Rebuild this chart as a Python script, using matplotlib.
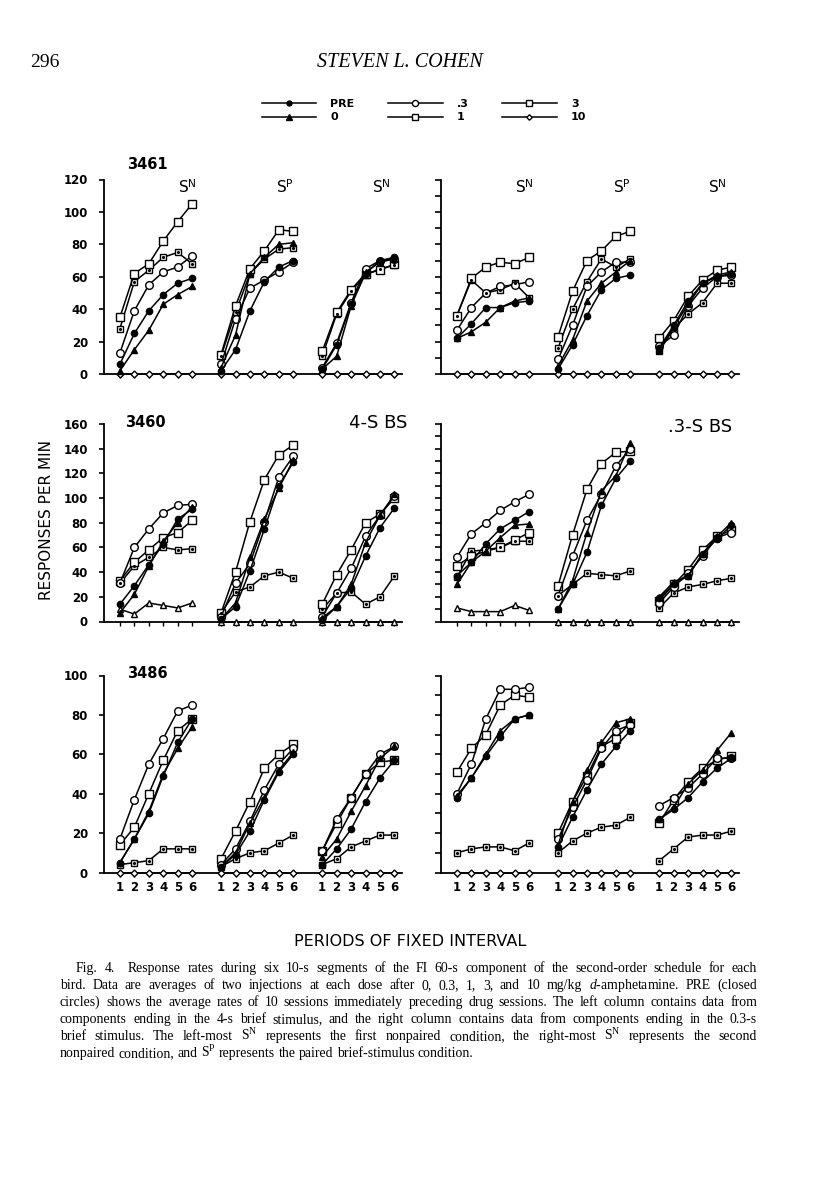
import matplotlib
matplotlib.use("Agg")
import matplotlib.pyplot as plt
import matplotlib.transforms as mtransforms
from matplotlib.lines import Line2D

W, H = 816, 1200

plt.rcParams['mathtext.fontset'] = 'custom'
plt.rcParams['mathtext.rm'] = 'Liberation Serif'
plt.rcParams['mathtext.it'] = 'Liberation Serif:italic'

# x layout: three conditions (SN, SP, SN), six 10-s periods each
periods = [1, 2, 3, 4, 5, 6]
group_offsets = [0, 7, 14]
doses = ['10', '3', '1', '.3', '0', 'PRE']
period_labels = ['1', '2', '3', '4', '5', '6']

# bird 3461, 4-s brief stimulus
b3461_4s = {
    'PRE': [6, 25, 39, 49, 56, 59, 2, 15, 39, 57, 66, 70, 3, 18, 43, 62, 70, 72],
    '0':   [2, 15, 27, 43, 49, 54, 4, 24, 62, 72, 80, 81, 3, 11, 42, 63, 69, 71],
    '.3':  [13, 39, 55, 63, 66, 73, 6, 34, 53, 58, 63, 69, 4, 19, 44, 65, 70, 71],
    '1':   [35, 62, 68, 82, 94, 105, 12, 42, 65, 76, 89, 88, 14, 38, 52, 62, 64, 68],
    '3':   [28, 57, 64, 72, 75, 68, 11, 38, 62, 71, 77, 78, 11, 37, 51, 61, 65, 67],
    '10':  [0] * 18,
}
# bird 3461, 0.3-s brief stimulus
b3461_03s = {
    'PRE': [22, 31, 41, 41, 44, 45, 3, 18, 36, 52, 59, 61, 16, 30, 45, 56, 60, 62],
    '0':   [22, 26, 32, 41, 45, 47, 5, 21, 45, 56, 63, 70, 15, 29, 43, 56, 61, 63],
    '.3':  [27, 41, 50, 54, 55, 57, 9, 30, 54, 63, 69, 69, 17, 24, 42, 53, 60, 61],
    '1':   [36, 59, 66, 69, 68, 72, 23, 51, 70, 76, 85, 88, 22, 33, 48, 58, 64, 66],
    '3':   [36, 58, 50, 52, 56, 47, 16, 40, 57, 71, 66, 71, 14, 28, 37, 44, 56, 56],
    '10':  [0] * 18,
}
# bird 3460, 4-s brief stimulus
b3460_4s = {
    'PRE': [14, 29, 46, 63, 83, 91, 2, 12, 41, 75, 110, 129, 1, 12, 27, 53, 76, 92],
    '0':   [7, 22, 45, 65, 80, 93, 2, 15, 52, 83, 108, 131, 3, 12, 30, 64, 86, 103],
    '.3':  [31, 60, 75, 88, 94, 95, 4, 31, 47, 81, 117, 134, 4, 23, 43, 69, 86, 102],
    '1':   [33, 48, 58, 68, 72, 82, 7, 40, 81, 115, 135, 143, 14, 38, 58, 80, 87, 100],
    '3':   [31, 45, 52, 60, 58, 59, 7, 24, 28, 37, 40, 35, 10, 23, 24, 14, 20, 37],
    '10':  [10, 6, 15, 13, 11, 15, 0, 0, 0, 0, 0, 0, 0, 0, 0, 0, 0, 0],
}
# bird 3460, 0.3-s brief stimulus
b3460_03s = {
    'PRE': [37, 48, 63, 75, 82, 89, 10, 30, 56, 94, 116, 130, 19, 30, 37, 55, 67, 78],
    '0':   [30, 48, 57, 68, 78, 79, 10, 33, 72, 106, 118, 145, 20, 32, 37, 55, 69, 80],
    '.3':  [52, 71, 80, 90, 97, 103, 21, 53, 82, 103, 126, 140, 15, 28, 39, 53, 68, 72],
    '1':   [45, 53, 57, 60, 66, 72, 29, 70, 107, 128, 137, 138, 17, 30, 42, 58, 69, 74],
    '3':   [36, 57, 58, 60, 65, 65, 21, 30, 39, 38, 37, 41, 11, 23, 28, 30, 33, 35],
    '10':  [11, 8, 8, 8, 13, 9, 0, 0, 0, 0, 0, 0, 0, 0, 0, 0, 0, 0],
}
# bird 3486, 4-s brief stimulus
b3486_4s = {
    'PRE': [5, 17, 30, 49, 66, 78, 3, 9, 21, 37, 51, 60, 4, 12, 22, 36, 48, 57],
    '0':   [5, 17, 31, 50, 63, 74, 3, 10, 25, 38, 52, 61, 8, 17, 31, 44, 58, 64],
    '.3':  [17, 37, 55, 68, 82, 85, 4, 12, 26, 42, 55, 63, 11, 27, 38, 50, 60, 64],
    '1':   [14, 23, 40, 57, 72, 78, 7, 21, 36, 53, 60, 65, 11, 25, 38, 50, 56, 57],
    '3':   [4, 5, 6, 12, 12, 12, 3, 7, 10, 11, 15, 19, 4, 7, 13, 16, 19, 19],
    '10':  [0] * 18,
}
# bird 3486, 0.3-s brief stimulus
b3486_03s = {
    'PRE': [38, 48, 59, 69, 78, 80, 13, 28, 42, 55, 64, 72, 27, 32, 38, 46, 53, 58],
    '0':   [39, 48, 60, 72, 78, 80, 14, 36, 52, 66, 76, 78, 27, 33, 45, 52, 62, 71],
    '.3':  [40, 55, 78, 93, 93, 94, 17, 33, 47, 63, 72, 75, 34, 38, 43, 50, 58, 58],
    '1':   [51, 63, 70, 85, 90, 89, 20, 36, 49, 64, 68, 76, 25, 37, 46, 53, 57, 59],
    '3':   [10, 12, 13, 13, 11, 15, 10, 16, 20, 23, 24, 28, 6, 12, 18, 19, 19, 21],
    '10':  [0] * 18,
}

styles = {
    'PRE': dict(marker='o', ms=4.5, mfc='k'),
    '0':   dict(marker='^', ms=5, mfc='k'),
    '.3':  dict(marker='o', ms=5.5, mfc='white'),
    '1':   dict(marker='s', ms=5.5, mfc='white'),
    '3':   dict(marker='s', ms=5, mfc='white'),
    '10':  dict(marker='D', ms=3.5, mfc='white'),
}


def px_rect(x, y, w, h):
    return [x / W, 1 - (y + h) / H, w / W, h / H]


fig = plt.figure(figsize=(W / 100, H / 100), dpi=100)
tick_font = dict(family='DejaVu Sans', weight='bold', size=8.5)


def panel(rect, data, ymax, left_col, bottom_row, ten_marker='D'):
    ax = fig.add_axes(rect)
    for d in doses:
        st = dict(styles[d])
        if d == '10':
            st['marker'] = ten_marker
            if ten_marker == '^':
                st['ms'] = 5
        for gi, g in enumerate(group_offsets):
            xs = [g + p for p in periods]
            ys = data[d][gi * 6:(gi + 1) * 6]
            ax.plot(xs, ys, color='k', lw=1.1, mec='k', mew=1.0,
                    clip_on=False, zorder=3, **st)
            if d == '3':
                ax.plot(xs, ys, ls='none', marker='.', ms=2.5, color='k',
                        clip_on=False, zorder=4)
    ax.set_xlim(-0.1, 20.5)
    ax.set_ylim(0, ymax)
    for s in ['top', 'right']:
        ax.spines[s].set_visible(False)
    for s in ['left', 'bottom']:
        ax.spines[s].set_linewidth(1.3)
    xt = [g + p for g in group_offsets for p in periods]
    ax.set_xticks(xt)
    ax.tick_params(axis='x', direction='out', length=3, width=1)
    if bottom_row:
        ax.set_xticklabels(period_labels * 3, fontdict=tick_font)
        ax.tick_params(axis='x', pad=3)
    else:
        ax.set_xticklabels([])
    if left_col:
        ax.set_yticks(range(0, ymax + 1, 20))
        ax.set_yticklabels([str(v) for v in range(0, ymax + 1, 20)],
                           fontdict=tick_font)
        ax.tick_params(axis='y', direction='out', length=3.5, width=1.2, pad=8)
    else:
        ax.set_yticks(range(0, ymax + 1, 10))
        ax.set_yticklabels([])
        ax.tick_params(axis='y', direction='out', length=4.5, width=1.2)
    return ax


def blend(ax):
    return mtransforms.blended_transform_factory(ax.transData, ax.transAxes)


cond_font = dict(family='DejaVu Sans', size=11)
sn = r'S$^{\mathregular{N}}$'
sp = r'S$^{\mathregular{P}}$'

# row 1: bird 3461
ax = panel(px_rect(104, 179.5, 297.7, 194.5), b3461_4s, 120, True, False)
ax.text(1.5, 1.055, '3461', transform=blend(ax), fontsize=10.5, fontweight='bold')
for xx, lab in zip([5.7, 12.4, 19.1], [sn, sp, sn]):
    ax.text(xx, 0.93, lab, transform=blend(ax), ha='center', **cond_font)

ax = panel(px_rect(441, 179.5, 297.7, 194.5), b3461_03s, 120, False, False)
for xx, lab in zip([5.7, 12.4, 19.0], [sn, sp, sn]):
    ax.text(xx, 0.93, lab, transform=blend(ax), ha='center', **cond_font)

# row 2: bird 3460
ax = panel(px_rect(104, 424, 297.7, 197.5), b3460_4s, 160, True, False, '^')
ax.text(1.35, 0.985, '3460', transform=blend(ax), fontsize=10.5, fontweight='bold')
ax.text(20.9, 0.98, '4-S BS', transform=blend(ax), ha='right', fontsize=13)

ax = panel(px_rect(441, 424, 297.7, 197.5), b3460_03s, 160, False, False, '^')
ax.text(20.05, 0.96, '.3-S BS', transform=blend(ax), ha='right', fontsize=13)

# row 3: bird 3486
ax = panel(px_rect(104, 675.5, 297.7, 197), b3486_4s, 100, True, True)
ax.text(1.5, 0.987, '3486', transform=blend(ax), fontsize=10.5, fontweight='bold')

ax = panel(px_rect(441, 675.5, 297.7, 197), b3486_03s, 100, False, True)

# legend
handles = []
for d in ['PRE', '0', '.3', '1', '3', '10']:
    st = dict(styles[d])
    st['ms'] = st['ms'] * 0.8
    handles.append(Line2D([], [], color='k', lw=1.1, mec='k', mew=1.0, **st))
fig.legend(handles, ['PRE', '0', '.3', '1', '3', '10'], ncol=3,
           loc='center', bbox_to_anchor=(424 / W, 1 - 110.5 / H),
           frameon=False, numpoints=1, handlelength=4.9, handletextpad=1.3,
           columnspacing=3.0, labelspacing=0.35,
           prop=dict(family='DejaVu Sans', weight='bold', size=8))

# axis titles
fig.text(47 / W, 1 - 520 / H, 'RESPONSES PER MIN', rotation=90,
         ha='center', va='center', family='DejaVu Sans', fontsize=11)
fig.text(410 / W, 1 - 941 / H, 'PERIODS OF FIXED INTERVAL',
         ha='center', va='center', family='DejaVu Sans', fontsize=11.5)

# page header
fig.text(30 / W, 1 - 67 / H, '296', family='Liberation Serif', fontsize=14)
fig.text(400 / W, 1 - 67 / H, 'STEVEN L. COHEN', ha='center',
         family='Liberation Serif', style='italic', fontsize=14.5)

# caption, justified line by line
caption = [
    'Fig. 4.  Response rates during six 10-s segments of the FI 60-s component of the second-order schedule for each',
    'bird. Data are averages of two injections at each dose after 0, 0.3, 1, 3, and 10 mg/kg $\\it{d}$-amphetamine. PRE (closed',
    'circles) shows the average rates of 10 sessions immediately preceding drug sessions. The left column contains data from',
    'components ending in the 4-s brief stimulus, and the right column contains data from components ending in the 0.3-s',
    'brief stimulus. The left-most S$^{\\mathrm{N}}$ represents the first nonpaired condition, the right-most S$^{\\mathrm{N}}$ represents the second',
    'nonpaired condition, and S$^{\\mathrm{P}}$ represents the paired brief-stimulus condition.',
]
renderer = fig.canvas.get_renderer()
cap_font = dict(family='Liberation Serif', fontsize=9.9)
for i, line in enumerate(caption):
    y = 1 - (972 + 17 * i) / H
    x0 = 76 if i == 0 else 60
    x1 = 757
    words = line.split(' ')
    texts = []
    widths = []
    for w in words:
        if w == '':
            texts.append(None)
            widths.append(0)
            continue
        t = fig.text(0, y, w, **cap_font)
        texts.append(t)
        widths.append(t.get_window_extent(renderer).width)
    if i < len(caption) - 1:
        gap = (x1 - x0 - sum(widths)) / (len(words) - 1)
    else:
        gap = 3.3
    x = x0
    for t, wd in zip(texts, widths):
        if t is not None:
            t.set_x(x / W)
        x += wd + gap

fig.savefig('out.png', dpi=100)
